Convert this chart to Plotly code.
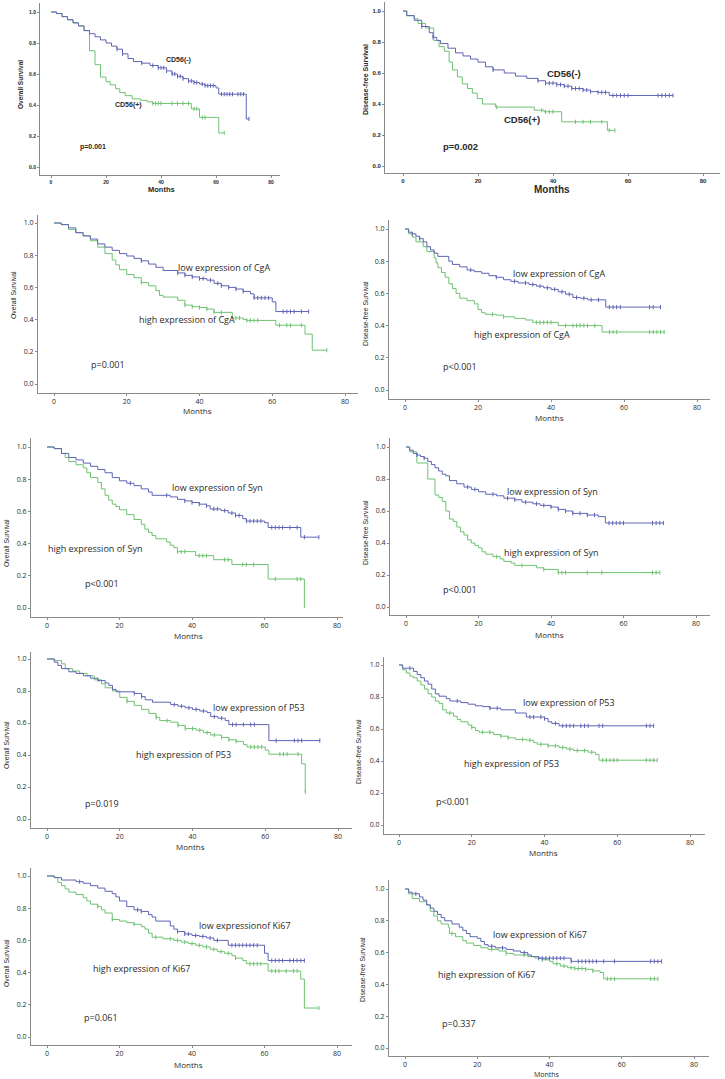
import numpy as np
import plotly.graph_objects as go

# ---------------- DATA ----------------
x_ticks = [0, 20, 40, 60, 80]
y_ticks = [0.0, 0.2, 0.4, 0.6, 0.8, 1.0]
y_tick_text = ["0.0", "0.2", "0.4", "0.6", "0.8", "1.0"]

# Panel 1: Overall survival, CD56
cd56_os_neg_t = [0, 2, 4, 6, 8, 10, 12, 14, 16, 18, 20, 22, 24, 26, 28, 30, 33, 36, 39, 42, 44, 46, 48, 50, 52, 54, 56, 60, 61, 71]
cd56_os_neg_s = [1.0, 0.99, 0.97, 0.95, 0.93, 0.91, 0.88, 0.86, 0.84, 0.82, 0.80, 0.78, 0.76, 0.73, 0.70, 0.68, 0.67, 0.655, 0.64, 0.62, 0.60, 0.585, 0.57, 0.555, 0.545, 0.535, 0.525, 0.51, 0.47, 0.31]
cd56_os_neg_c = [24, 26, 33, 37, 39, 40, 41, 42, 44, 45, 46, 47, 48, 50, 51, 52, 53, 55, 56, 57, 58, 59, 62, 63, 64, 65, 66, 68, 69, 70, 72]
cd56_os_pos_t = [0, 2, 4, 6, 8, 10, 12, 14, 16, 18, 20, 21.5, 23.5, 25, 27, 29.5, 32.5, 35, 37, 51, 54, 61]
cd56_os_pos_s = [1.0, 0.99, 0.97, 0.95, 0.93, 0.91, 0.88, 0.75, 0.66, 0.58, 0.55, 0.53, 0.505, 0.48, 0.46, 0.44, 0.43, 0.42, 0.41, 0.375, 0.32, 0.22]
cd56_os_pos_c = [37, 38, 39, 40, 44, 46, 48, 50, 52, 53, 55, 56, 63]

# Panel 2: Disease-free survival, CD56
cd56_dfs_neg_t = [0, 1, 3, 5, 7, 8, 9, 10, 12, 14, 16, 18, 20, 22, 24, 27, 30, 33, 36, 38, 41, 43, 45, 48, 50, 52, 55]
cd56_dfs_neg_s = [1.0, 0.97, 0.94, 0.90, 0.86, 0.83, 0.81, 0.79, 0.76, 0.73, 0.71, 0.69, 0.67, 0.64, 0.62, 0.60, 0.58, 0.565, 0.55, 0.535, 0.525, 0.515, 0.50, 0.49, 0.48, 0.475, 0.455]
cd56_dfs_neg_c = [5, 8, 24, 36, 38, 39, 40, 41, 42, 43, 44, 45, 46, 47, 48, 49, 50, 52, 53, 54, 56, 57, 58, 59, 60, 68, 69, 70, 71, 72]
cd56_dfs_pos_t = [0, 1, 3, 4, 6, 8.2, 9.6, 11, 12.3, 13.2, 14.5, 15.8, 17.2, 18.5, 19.8, 21.2, 24.7, 35, 37.6, 42.3, 54.5]
cd56_dfs_pos_s = [1.0, 0.97, 0.95, 0.92, 0.89, 0.81, 0.77, 0.74, 0.67, 0.62, 0.575, 0.53, 0.50, 0.47, 0.435, 0.40, 0.38, 0.36, 0.35, 0.285, 0.23]
cd56_dfs_pos_c = [25, 37, 38, 39, 40, 46, 48, 50, 53, 55, 56.5]

# Panel 3: Overall survival, CgA
cga_os_low_t = [0, 2, 4, 6, 8, 10, 12, 14, 16, 18, 20, 22, 24, 26, 28, 30, 34, 36, 38, 40, 42, 44, 46, 48, 50, 52, 54, 55, 60, 61]
cga_os_low_s = [1.0, 0.99, 0.97, 0.94, 0.92, 0.90, 0.87, 0.85, 0.83, 0.81, 0.795, 0.78, 0.765, 0.745, 0.725, 0.705, 0.69, 0.675, 0.665, 0.655, 0.645, 0.625, 0.61, 0.60, 0.59, 0.575, 0.56, 0.535, 0.51, 0.45]
cga_os_low_c = [24, 34, 36, 38, 40, 41, 43, 45, 46, 48, 50, 52, 55, 56, 57, 58, 59, 63, 64, 65, 66, 68, 70]
cga_os_high_t = [0, 2, 4, 6, 8, 10, 12, 14, 16, 17, 18, 20, 22, 24, 26, 28, 29, 30, 34, 36, 38, 40, 42, 44, 49, 52, 53, 61, 69, 71]
cga_os_high_s = [1.0, 0.99, 0.96, 0.94, 0.92, 0.89, 0.85, 0.81, 0.77, 0.74, 0.71, 0.68, 0.66, 0.63, 0.61, 0.58, 0.55, 0.54, 0.52, 0.49, 0.48, 0.475, 0.465, 0.445, 0.41, 0.40, 0.395, 0.365, 0.31, 0.21]
cga_os_high_c = [24, 36, 38, 40, 42, 44, 46, 50, 51, 53, 54, 55, 56, 62, 64, 65, 68, 75]

# Panel 4: Disease-free survival, CgA
cga_dfs_low_t = [0, 1, 2, 3, 4, 5, 6, 7, 8, 9, 12, 13, 15, 17, 19, 21, 23, 25, 27, 29, 31, 34, 36, 38, 40, 42, 44, 46, 48, 50, 55]
cga_dfs_low_s = [1.0, 0.98, 0.97, 0.955, 0.94, 0.92, 0.89, 0.87, 0.85, 0.83, 0.80, 0.78, 0.765, 0.745, 0.735, 0.725, 0.71, 0.70, 0.685, 0.675, 0.665, 0.655, 0.645, 0.635, 0.625, 0.61, 0.595, 0.575, 0.57, 0.56, 0.515]
cga_dfs_low_c = [2, 4, 18, 25, 30, 33, 35, 37, 39, 41, 43, 45, 47, 49, 51, 53, 56, 57, 58, 59, 67, 68, 70]
cga_dfs_high_t = [0, 1, 2, 3, 5, 6, 8, 8.5, 9, 10, 11, 12, 13, 14, 15, 17, 19, 20, 21, 22, 25, 27, 30, 33, 35, 42, 54]
cga_dfs_high_s = [1.0, 0.97, 0.95, 0.92, 0.89, 0.86, 0.82, 0.79, 0.76, 0.73, 0.70, 0.66, 0.63, 0.60, 0.57, 0.555, 0.535, 0.50, 0.48, 0.47, 0.465, 0.455, 0.445, 0.435, 0.42, 0.40, 0.36]
cga_dfs_high_c = [24, 27, 36, 37, 38, 39, 40, 44, 46, 47, 48, 49, 50, 52, 56, 57, 58, 67, 68, 69, 70, 71]

# Panel 5: Overall survival, Syn
syn_os_low_t = [0, 2, 4, 6, 8, 10, 12, 14, 16, 18, 20, 22, 24, 26, 28, 29, 34, 36, 38, 40, 42, 44, 45, 48, 50, 52, 54, 55, 60, 61, 70]
syn_os_low_s = [1.0, 0.99, 0.96, 0.935, 0.92, 0.90, 0.88, 0.86, 0.84, 0.81, 0.79, 0.775, 0.76, 0.74, 0.72, 0.70, 0.69, 0.675, 0.665, 0.655, 0.645, 0.635, 0.615, 0.605, 0.59, 0.575, 0.555, 0.54, 0.53, 0.50, 0.44]
syn_os_low_c = [23, 33, 38, 40, 42, 44, 46, 47, 49, 51, 52, 53, 55, 56, 57, 58, 59, 62, 63, 64, 65, 67, 69, 71, 75]
syn_os_high_t = [0, 2, 4, 5, 6, 8, 10, 11, 12, 14, 15, 16, 17, 18, 19, 20, 22, 24, 26, 27, 28, 29, 30, 33, 34, 35, 36, 41, 46, 51, 61, 71]
syn_os_high_s = [1.0, 0.99, 0.96, 0.935, 0.91, 0.89, 0.87, 0.84, 0.81, 0.78, 0.74, 0.70, 0.67, 0.645, 0.63, 0.61, 0.58, 0.55, 0.52, 0.49, 0.47, 0.45, 0.43, 0.41, 0.39, 0.375, 0.35, 0.325, 0.30, 0.27, 0.18, 0.0]
syn_os_high_c = [36, 37, 38, 42, 43, 44, 49, 50, 54, 55, 57, 63, 69, 70]

# Panel 6: Disease-free survival, Syn
syn_dfs_low_t = [0, 1, 2, 3, 4, 5, 6, 7, 8, 9, 10, 11, 12, 14, 16, 18, 20, 22, 25, 27, 30, 32, 35, 37, 40, 42, 44, 46, 50, 53, 55]
syn_dfs_low_s = [1.0, 0.98, 0.96, 0.95, 0.94, 0.93, 0.91, 0.89, 0.87, 0.85, 0.83, 0.82, 0.79, 0.77, 0.75, 0.735, 0.72, 0.705, 0.695, 0.68, 0.67, 0.655, 0.645, 0.635, 0.625, 0.61, 0.60, 0.585, 0.575, 0.565, 0.525]
syn_dfs_low_c = [3, 5, 17, 19, 24, 28, 30, 33, 36, 38, 40, 42, 44, 46, 48, 50, 52, 56, 57, 58, 59, 60, 68, 69, 70, 71]
syn_dfs_high_t = [0, 1, 3, 6, 8, 9, 10, 11, 12, 13, 14, 15, 16, 17, 18, 19, 20, 21, 22, 24, 26, 27, 29, 30, 36, 38, 42]
syn_dfs_high_s = [1.0, 0.97, 0.90, 0.80, 0.70, 0.685, 0.66, 0.60, 0.55, 0.535, 0.50, 0.47, 0.45, 0.42, 0.40, 0.385, 0.37, 0.345, 0.33, 0.315, 0.30, 0.285, 0.275, 0.26, 0.245, 0.235, 0.215]
syn_dfs_high_c = [25, 32, 38, 42, 43, 44, 50, 54, 68, 69, 70]

# Panel 7: Overall survival, P53
p53_os_low_t = [0, 2, 3, 4, 6, 8, 10, 12, 14, 16, 17, 18, 19, 24, 26, 27, 29, 34, 36, 38, 40, 42, 44, 45, 47, 49, 50, 61]
p53_os_low_s = [1.0, 0.98, 0.96, 0.94, 0.92, 0.91, 0.895, 0.88, 0.865, 0.85, 0.835, 0.81, 0.795, 0.785, 0.765, 0.745, 0.73, 0.715, 0.705, 0.695, 0.685, 0.675, 0.665, 0.64, 0.63, 0.615, 0.59, 0.49]
p53_os_low_c = [24, 26, 35, 37, 39, 41, 43, 46, 48, 51, 52, 54, 56, 57, 63, 68, 69, 70, 75]
p53_os_high_t = [0, 2, 4, 5, 7, 9, 11, 13, 15, 16, 18, 20, 22, 24, 26, 28, 30, 31, 34, 36, 38, 41, 43, 45, 48, 50, 52, 54, 55, 60, 61, 70, 71]
p53_os_high_s = [1.0, 0.99, 0.97, 0.94, 0.925, 0.91, 0.895, 0.87, 0.845, 0.82, 0.80, 0.76, 0.735, 0.71, 0.685, 0.66, 0.635, 0.615, 0.605, 0.585, 0.565, 0.555, 0.54, 0.525, 0.51, 0.495, 0.485, 0.465, 0.45, 0.43, 0.405, 0.345, 0.17]
p53_os_high_c = [14, 22, 30, 33, 36, 38, 40, 42, 44, 46, 48, 50, 52, 56, 57, 58, 59, 64, 65, 66, 69, 71]

# Panel 8: Disease-free survival, P53
p53_dfs_low_t = [0, 1, 4, 5, 6, 7, 8, 9, 10, 11, 13, 14, 17, 19, 21, 23, 25, 28, 32, 35, 40, 41, 42, 44]
p53_dfs_low_s = [1.0, 0.98, 0.96, 0.94, 0.92, 0.90, 0.88, 0.85, 0.82, 0.805, 0.79, 0.775, 0.765, 0.755, 0.745, 0.74, 0.73, 0.72, 0.70, 0.675, 0.665, 0.645, 0.635, 0.62]
p53_dfs_low_c = [3, 16, 25, 27, 36, 37, 39, 40, 43, 45, 46, 47, 48, 50, 51, 52, 55, 56, 68, 69, 70]
p53_dfs_high_t = [0, 1, 2, 3, 4, 5, 6, 7, 8, 9, 10, 11, 12, 13, 15, 16, 17, 19, 20, 21, 22, 26, 28, 30, 32, 35, 37, 38, 41, 44, 46, 48, 52, 54, 55]
p53_dfs_high_s = [1.0, 0.97, 0.95, 0.93, 0.92, 0.90, 0.875, 0.85, 0.82, 0.80, 0.775, 0.76, 0.72, 0.70, 0.68, 0.66, 0.645, 0.625, 0.61, 0.59, 0.58, 0.565, 0.555, 0.545, 0.535, 0.53, 0.515, 0.505, 0.495, 0.485, 0.475, 0.465, 0.455, 0.44, 0.405]
p53_dfs_high_c = [14, 20, 23, 25, 28, 30, 34, 36, 39, 41, 43, 45, 47, 49, 51, 53, 56, 57, 58, 59, 60, 68, 69, 70, 71]

# Panel 9: Overall survival, Ki67
ki67_os_low_t = [0, 2, 4, 8, 10, 12, 14, 16, 18, 19, 20, 22, 24, 26, 28, 29, 30, 34, 35, 36, 38, 40, 42, 44, 46, 50, 60, 61]
ki67_os_low_s = [1.0, 0.99, 0.975, 0.965, 0.955, 0.94, 0.925, 0.905, 0.89, 0.87, 0.845, 0.81, 0.79, 0.78, 0.76, 0.745, 0.72, 0.69, 0.67, 0.655, 0.64, 0.63, 0.625, 0.615, 0.60, 0.57, 0.52, 0.475]
ki67_os_low_c = [9, 25, 26, 36, 38, 39, 41, 43, 45, 47, 51, 52, 53, 54, 55, 56, 57, 58, 62, 63, 64, 65, 67, 68, 69, 70, 71]
ki67_os_high_t = [0, 2, 3, 4, 5, 6, 8, 10, 11, 12, 14, 15, 16, 18, 20, 22, 24, 26, 27, 28, 29, 32, 35, 37, 39, 41, 43, 45, 47, 49, 51, 52, 54, 55, 61, 70, 71]
ki67_os_high_s = [1.0, 0.99, 0.96, 0.94, 0.92, 0.90, 0.885, 0.865, 0.845, 0.825, 0.81, 0.79, 0.77, 0.73, 0.72, 0.71, 0.70, 0.685, 0.67, 0.645, 0.62, 0.61, 0.60, 0.59, 0.58, 0.57, 0.56, 0.545, 0.53, 0.52, 0.505, 0.49, 0.475, 0.455, 0.41, 0.36, 0.18]
ki67_os_high_c = [14, 18, 24, 30, 34, 36, 38, 40, 42, 44, 46, 48, 50, 52, 56, 57, 58, 59, 62, 63, 64, 66, 68, 69, 75]

# Panel 10: Disease-free survival, Ki67
ki67_dfs_low_t = [0, 1, 2, 4, 5, 6, 7, 8, 9, 10, 11, 13, 15, 16, 17, 18, 20, 21, 22, 23, 25, 28, 30, 32, 34, 35, 37, 46]
ki67_dfs_low_s = [1.0, 0.98, 0.97, 0.95, 0.93, 0.90, 0.88, 0.86, 0.84, 0.82, 0.80, 0.78, 0.76, 0.74, 0.72, 0.70, 0.69, 0.67, 0.65, 0.64, 0.63, 0.62, 0.61, 0.60, 0.585, 0.575, 0.565, 0.545]
ki67_dfs_low_c = [3, 24, 27, 33, 37, 38, 39, 40, 41, 42, 43, 44, 46, 48, 49, 50, 51, 52, 53, 55, 58, 68, 69, 70, 71]
ki67_dfs_high_t = [0, 1, 2, 4, 6, 7, 8, 9, 10, 12, 12.3, 14, 16, 17, 19, 21, 23, 26, 28, 30, 34, 36, 38, 40, 41, 43, 45, 47, 50, 52, 54, 55]
ki67_dfs_high_s = [1.0, 0.97, 0.94, 0.92, 0.90, 0.86, 0.83, 0.80, 0.78, 0.76, 0.72, 0.70, 0.675, 0.66, 0.645, 0.63, 0.62, 0.61, 0.595, 0.585, 0.575, 0.565, 0.555, 0.545, 0.53, 0.515, 0.505, 0.50, 0.495, 0.485, 0.475, 0.435]
ki67_dfs_high_c = [13, 24, 28, 33, 38, 42, 44, 46, 47, 48, 49, 50, 52, 56, 57, 58, 68, 69, 70]

# labels
y_titles = ["Overall Survival", "Disease-free Survival"] * 5
upper_labels = ["CD56(-)", "CD56(-)", "low expression of CgA", "low expression of CgA",
                "low expression of Syn", "low expression of Syn", "low expression of P53",
                "low expression of P53", "low expressionof Ki67", "low expression of Ki67"]
lower_labels = ["CD56(+)", "CD56(+)", "high expression of CgA", "high expression of CgA",
                "high expression of Syn", "high expression of Syn", "high expression of P53",
                "high expression of P53", "high expression of Ki67", "high expression of Ki67"]
p_values = ["p=0.001", "p=0.002", "p=0.001", "p<0.001", "p<0.001", "p<0.001",
            "p=0.019", "p<0.001", "p=0.061", "p=0.337"]

curves = [
    (cd56_os_neg_t, cd56_os_neg_s, cd56_os_neg_c, cd56_os_pos_t, cd56_os_pos_s, cd56_os_pos_c),
    (cd56_dfs_neg_t, cd56_dfs_neg_s, cd56_dfs_neg_c, cd56_dfs_pos_t, cd56_dfs_pos_s, cd56_dfs_pos_c),
    (cga_os_low_t, cga_os_low_s, cga_os_low_c, cga_os_high_t, cga_os_high_s, cga_os_high_c),
    (cga_dfs_low_t, cga_dfs_low_s, cga_dfs_low_c, cga_dfs_high_t, cga_dfs_high_s, cga_dfs_high_c),
    (syn_os_low_t, syn_os_low_s, syn_os_low_c, syn_os_high_t, syn_os_high_s, syn_os_high_c),
    (syn_dfs_low_t, syn_dfs_low_s, syn_dfs_low_c, syn_dfs_high_t, syn_dfs_high_s, syn_dfs_high_c),
    (p53_os_low_t, p53_os_low_s, p53_os_low_c, p53_os_high_t, p53_os_high_s, p53_os_high_c),
    (p53_dfs_low_t, p53_dfs_low_s, p53_dfs_low_c, p53_dfs_high_t, p53_dfs_high_s, p53_dfs_high_c),
    (ki67_os_low_t, ki67_os_low_s, ki67_os_low_c, ki67_os_high_t, ki67_os_high_s, ki67_os_high_c),
    (ki67_dfs_low_t, ki67_dfs_low_s, ki67_dfs_low_c, ki67_dfs_high_t, ki67_dfs_high_s, ki67_dfs_high_c),
]

# ---------------- LAYOUT (pixel geometry of each panel) ----------------
W, H = 725, 1079
BLUE = "#5f64b4"
GREEN = "#6fc272"
AXC = "#8a8a8a"
TXT = "#2a2a2a"

# px of x=0, px of x=80, py of y=1, py of y=0, axis left, axis right, axis top, axis bottom
geom = [
    (51, 271, 12, 167, 40, 280, 3, 175),
    (403, 703, 11, 166, 385, 720, 2, 173),
    (54, 345, 223, 384, 38, 358, 215, 393),
    (405, 697, 229, 390, 389, 710, 220, 399),
    (47, 337, 447, 608, 31, 343, 438, 617),
    (406, 696, 447, 607, 390, 710, 438, 615),
    (47, 338, 659, 819, 31, 352, 652, 828),
    (399, 690, 665, 825, 384, 705, 657, 834),
    (47, 337, 876, 1037, 31, 352, 868, 1045),
    (405, 694, 889, 1048, 389, 709, 880, 1056),
]
# label positions in data coords (x, y): upper, lower, p
label_pos = [
    ((46.4, 0.69), (28, 0.40), (15.3, 0.13)),
    ((42.9, 0.60), (31.8, 0.30), (15.4, 0.127)),
    ((46.6, 0.726), (36.5, 0.40), (14.9, 0.122)),
    ((42.2, 0.726), (32, 0.342), (15.1, 0.149)),
    ((47.1, 0.75), (13.3, 0.368), (15.2, 0.155)),
    ((40.4, 0.723), (39.9, 0.34), (15, 0.11)),
    ((58.2, 0.70), (37.4, 0.405), (15.1, 0.10)),
    ((46.7, 0.765), (30.8, 0.385), (14.9, 0.146)),
    ((54.5, 0.69), (26.2, 0.425), (15, 0.124)),
    ((37.4, 0.715), (22.8, 0.464), (14.9, 0.153)),
]
# pixel positions of "Months" and y-title centres
months_px = [(161, 190), (552, 190), (197, 411), (549, 417), (189, 635),
             (549, 634), (190, 846), (543, 852), (189, 1064), (547, 1074)]
ytitle_px = [(20, 85), (365, 80), (13, 295), (366, 314), (6, 543),
             (366, 533), (6, 745), (358, 752), (6, 963), (362, 970)]

fig = go.Figure()
annotations = []
layout = {}


def step_y(t, s, c):
    idx = np.searchsorted(np.array(t), np.array(c), side="right") - 1
    return list(np.array(s)[idx])


for i, (g, cv) in enumerate(zip(geom, curves)):
    n = i + 1
    px0, px80, py1, py0, left, right, top, bottom = g
    sx = (px80 - px0) / 80.0
    sy = (py0 - py1) / 1.0
    xr = [(left - px0) / sx, (right - px0) / sx]
    yr = [-(bottom - py0) / sy, 1 + (py1 - top) / sy]
    xname = "xaxis" if n == 1 else f"xaxis{n}"
    yname = "yaxis" if n == 1 else f"yaxis{n}"
    xref = "x" if n == 1 else f"x{n}"
    yref = "y" if n == 1 else f"y{n}"
    small = n <= 2
    tick_font = dict(family="Liberation Sans, Arial", size=5 if n == 1 else 6, color=TXT, weight="bold") if small \
        else dict(family="Open Sans", size=7, color=TXT)
    common = dict(showline=True, linecolor=AXC, linewidth=1, ticks="outside", ticklen=2,
                  tickcolor=AXC, showgrid=False, zeroline=False, tickfont=tick_font, fixedrange=True)
    layout[xname] = dict(common, domain=[left / W, right / W], range=xr, anchor=yref,
                         tickvals=x_ticks, ticktext=[str(v) for v in x_ticks])
    layout[yname] = dict(common, domain=[1 - bottom / H, 1 - top / H], range=yr, anchor=xref,
                         tickvals=y_ticks, ticktext=y_tick_text)

    t1, s1, c1, t2, s2, c2 = cv
    for t, s, c, col in ((t2, s2, c2, GREEN), (t1, s1, c1, BLUE)):
        end = max(max(c), max(t))
        fig.add_trace(go.Scatter(x=list(t) + [end], y=list(s) + [s[-1]], mode="lines",
                                 line=dict(color=col, width=1, shape="hv"),
                                 xaxis=xref, yaxis=yref, showlegend=False, hoverinfo="skip"))
        fig.add_trace(go.Scatter(x=c, y=step_y(t, s, c), mode="markers",
                                 marker=dict(symbol="line-ns", size=3,
                                             line=dict(color=col, width=1)),
                                 xaxis=xref, yaxis=yref, showlegend=False, hoverinfo="skip"))

    if small:
        lf = dict(family="Liberation Sans, Arial", size=7 if n == 1 else 9.5, color=TXT, weight="bold")
        mf = dict(family="Liberation Sans, Arial", size=7.5 if n == 1 else 10, color=TXT, weight="bold")
        yf = dict(family="Liberation Sans, Arial", size=6.5 if n == 1 else 7, color=TXT, weight="bold")
    else:
        lf = dict(family="Open Sans", size=9, color=TXT)
        mf = dict(family="Open Sans", size=8 if n < 10 else 7, color=TXT)
        yf = dict(family="Liberation Sans, Arial", size=6.8, color=TXT)

    up, lo, pp = label_pos[i]
    for (xx, yy), txt in ((up, upper_labels[i]), (lo, lower_labels[i]), (pp, p_values[i])):
        annotations.append(dict(x=xx, y=yy, xref=xref, yref=yref, text=txt, showarrow=False,
                                font=lf, xanchor="center", yanchor="middle"))
    mx, my = months_px[i]
    annotations.append(dict(x=mx / W, y=1 - my / H, xref="paper", yref="paper", text="Months",
                            showarrow=False, font=mf, xanchor="center", yanchor="middle"))
    tx, ty = ytitle_px[i]
    annotations.append(dict(x=tx / W, y=1 - ty / H, xref="paper", yref="paper", text=y_titles[i],
                            showarrow=False, font=yf, textangle=-90, xanchor="center", yanchor="middle"))

fig.update_layout(width=W, height=H, margin=dict(l=0, r=0, t=0, b=0),
                  paper_bgcolor="white", plot_bgcolor="white",
                  annotations=annotations, showlegend=False, **layout)
fig.write_html("out.html", config={"displayModeBar": False},
               post_script="document.body.style.margin='0px';document.body.style.overflow='hidden';")
